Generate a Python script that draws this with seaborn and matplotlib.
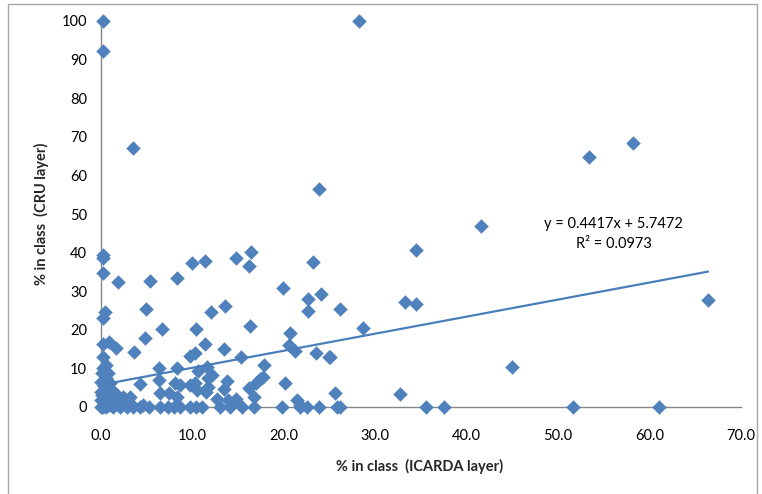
import numpy as np
import pandas as pd
import matplotlib
matplotlib.use("Agg")
import matplotlib.pyplot as plt
import seaborn as sns
from matplotlib.patches import Rectangle

sns.set_theme(style="white")
plt.rcParams['font.family'] = ['Lato', 'DejaVu Sans']

# --- data ---
icarda_pct = [
    0.2, 0.2, 3.5, 28.2, 53.4, 58.2, 23.8, 41.6, 34.5, 66.4, 44.9, 33.3, 34.5, 28.7, 26.1, 25.1, 25.6, 32.7,
    26.1, 35.6, 37.5, 51.6, 61.0,
    0.2, 0.2, 0.2, 1.9, 5.4, 8.3, 10.0, 11.4, 14.8, 16.4, 16.2, 19.9, 23.2, 22.6, 22.6, 24.1,
    0.25, 0.4, 4.9, 6.7, 4.8, 10.4, 12.0, 13.6, 16.3,
    0.2, 0.9, 1.6, 3.6, 11.4, 13.5, 15.3, 17.8, 20.6, 20.7, 21.2, 23.5, 24.9,
    0.2, 0.5, 9.7, 10.3, 6.3, 8.3, 10.6, 11.6, 12.1, 11.7, 13.8, 17.4, 17.7, 20.1,
    4.3, 6.3, 8.1, 8.6, 10.3, 11.5, 13.5, 16.2, 17.0, 16.7, 6.5, 7.4, 3.2, 8.3, 12.7, 13.9, 14.8, 21.4, 21.8,
    10.5, 9.7, 11.7, 2.4, 1.5,
    0.1, 0.8, 0.0, 1.0, 0.0, 0.8, 0.0, 4.6, 0.3, 0.5, 1.2, 1.8, 2.0, 0.3, 1.0, 2.6, 3.0, 0.6, 0.2, 1.3,
    0.1, 0.4, 2.2, 3.4, 0.7,
    0.0, 0.2, 0.6, 1.3, 2.1, 2.8, 3.5, 4.3, 5.2, 6.5, 7.3, 8.0, 8.6, 9.7, 10.4, 11.0, 13.0, 14.1, 15.4,
    16.7, 19.8, 21.8, 22.5, 23.8, 25.8,
]
cru_pct = [
    100.0, 92.3, 67.2, 100.0, 64.7, 68.3, 56.4, 47.0, 40.7, 27.7, 10.3, 27.3, 26.8, 20.4, 25.3, 12.9, 3.5, 3.4,
    0.0, 0.0, 0.0, 0.0, 0.0,
    39.4, 38.5, 34.6, 32.5, 32.7, 33.3, 37.4, 37.8, 38.5, 40.1, 36.6, 30.7, 37.6, 27.9, 24.9, 29.3,
    23.0, 24.7, 25.3, 20.1, 18.0, 20.1, 24.7, 26.2, 21.1,
    16.3, 16.9, 15.2, 14.3, 16.3, 14.9, 13.0, 10.9, 16.1, 19.1, 14.6, 14.1, 13.0,
    13.0, 10.9, 13.2, 13.9, 10.0, 10.0, 9.3, 10.4, 8.3, 7.4, 6.8, 7.2, 7.8, 6.3,
    6.0, 7.0, 6.3, 5.7, 6.1, 4.0, 4.6, 4.8, 6.1, 2.7, 3.7, 3.7, 2.7, 2.7, 2.0, 1.8, 2.0, 1.8, 0.5,
    4.4, 5.7, 5.3, 2.7, 1.8,
    8.7, 8.7, 6.6, 6.1, 4.0, 3.5, 1.8, 0.5, 5.5, 2.5, 4.5, 3.0, 1.0, 0.8, 0.5, 0.8, 1.5, 7.5, 10.0, 2.2,
    3.0, 1.2, 0.3, 0.6, 4.8,
    0.0, 0.0, 0.0, 0.0, 0.0, 0.0, 0.0, 0.0, 0.0, 0.0, 0.0, 0.0, 0.0, 0.0, 0.0, 0.0, 0.0, 0.0, 0.0,
    0.0, 0.0, 0.0, 0.0, 0.0, 0.0,
]
trend_slope = 0.4417
trend_intercept = 5.7472
trend_r2 = 0.0973
x_ticks = [0, 10, 20, 30, 40, 50, 60, 70]
y_ticks = [0, 10, 20, 30, 40, 50, 60, 70, 80, 90, 100]

df = pd.DataFrame({"icarda": icarda_pct, "cru": cru_pct})

fig = plt.figure(figsize=(7.62, 4.94), dpi=100)
ax = fig.add_axes([101 / 762, 1 - 407 / 494, 640 / 762, 386 / 494])

blue = "#4F81BD"
sns.scatterplot(data=df, x="icarda", y="cru", ax=ax, marker="D", s=50,
                color=blue, edgecolor=blue, linewidth=0.3, clip_on=False, zorder=3)

# linear trendline over data range
xs = np.array([df["icarda"].min(), df["icarda"].max()])
ax.plot(xs, trend_slope * xs + trend_intercept, color="#4A7EBB", lw=1.6, zorder=4)

ax.text(56.1, 47.4, f"y = {trend_slope}x + {trend_intercept}", ha="center", va="center",
        fontsize=10.5, color="#000000")
ax.text(56.1, 42.2, f"R\u00b2 = {trend_r2}", ha="center", va="center", fontsize=10.5, color="#000000")

ax.set_xlim(0, 70)
ax.set_ylim(0, 100)
ax.set_xticks(x_ticks)
ax.set_yticks(y_ticks)
ax.set_xticklabels([f"{v:.1f}" for v in x_ticks])
ax.set_yticklabels([str(v) for v in y_ticks])

for side in ["top", "right"]:
    ax.spines[side].set_visible(False)
for side in ["left", "bottom"]:
    ax.spines[side].set_color("#868686")
    ax.spines[side].set_linewidth(1.0)
ax.tick_params(axis="both", which="both", direction="out", length=4, width=0.8,
               color="#868686", labelsize=10.5, labelcolor="#000000")
ax.tick_params(axis="x", pad=12)
ax.tick_params(axis="y", pad=6)
ax.grid(False)

ax.set_xlabel("% in class  (ICARDA layer)", fontsize=10.5, fontweight="bold")
ax.xaxis.set_label_coords((420 - 101) / 640, -(459 - 407) / 386)
ax.set_ylabel("% in class  (CRU layer)", fontsize=10.5, fontweight="bold")
ax.yaxis.set_label_coords((49 - 101) / 640, 0.5)

# chart-area border
fig.patches.append(Rectangle((8 / 762, -0.02), (757 - 8) / 762, 1.02 - 4 / 494,
                             transform=fig.transFigure, fill=False,
                             edgecolor="#A6A6A6", linewidth=1.0))

fig.savefig("out.png", dpi=100)
